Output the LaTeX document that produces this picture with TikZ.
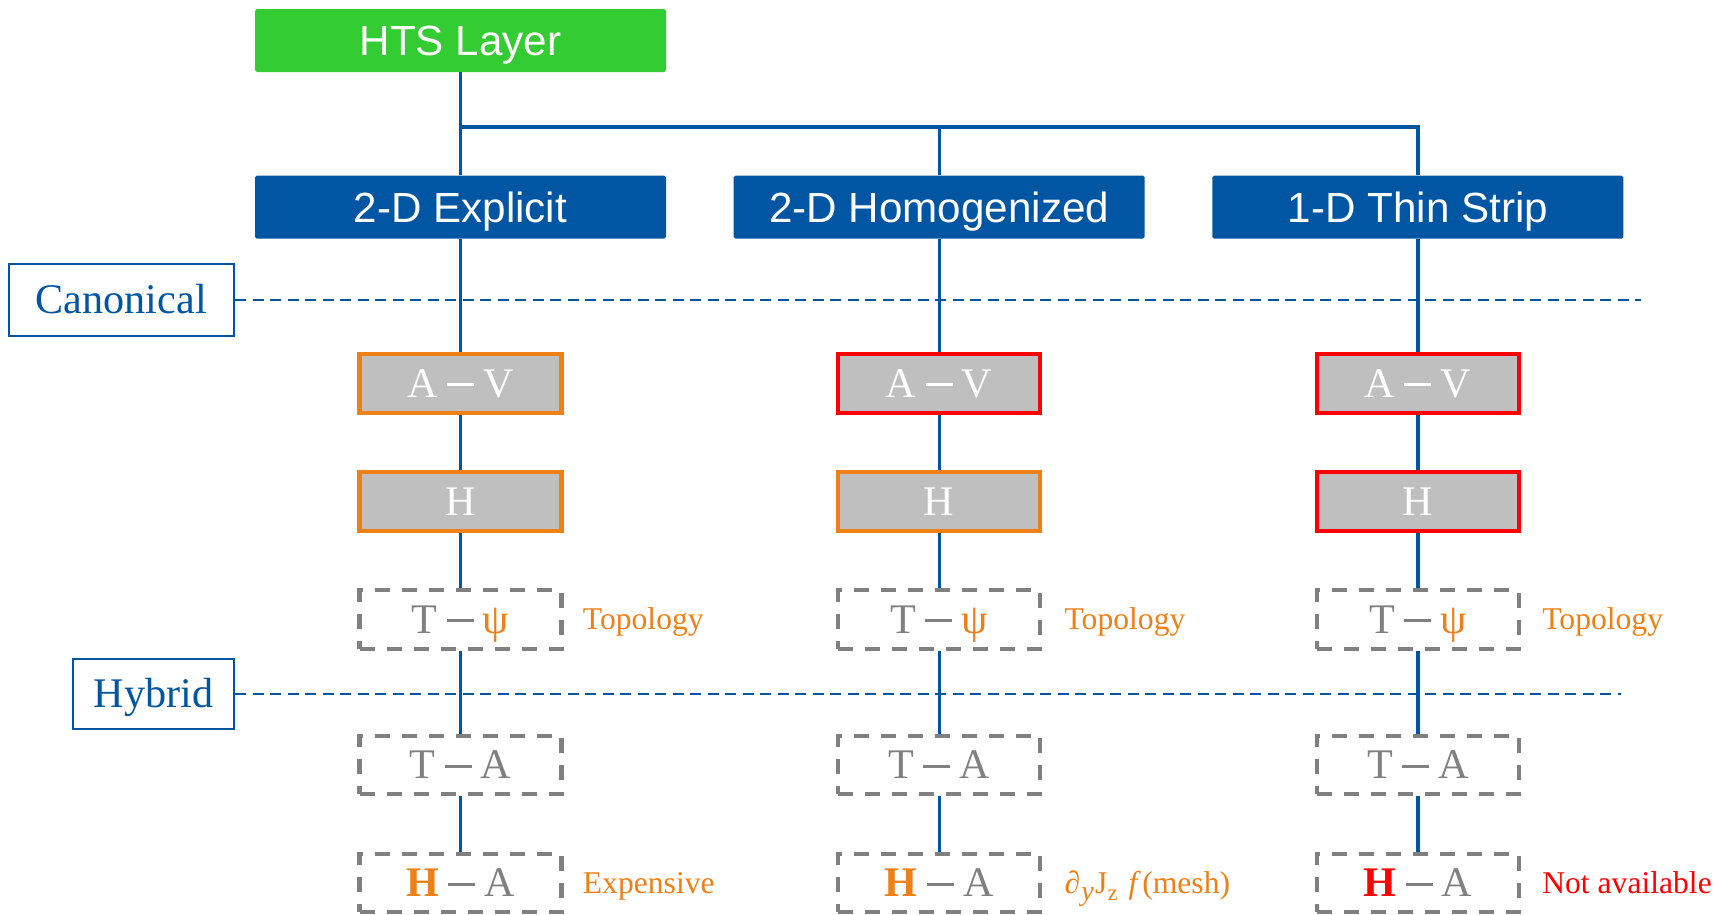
\documentclass[tikz,border=0pt]{standalone}
\usepackage{fontspec}
\setmainfont{Liberation Serif}
\setsansfont{Liberation Sans}
\usetikzlibrary{positioning}
\definecolor{hblue}{RGB}{0,86,163}
\definecolor{hgreen}{RGB}{51,204,51}
\definecolor{hgray}{RGB}{191,191,191}
\definecolor{dgray}{RGB}{128,128,128}
\definecolor{horange}{RGB}{238,128,22}
\definecolor{hred}{RGB}{255,0,0}
\newcommand{\mns}{\hspace{0.22em}\rule[0.27em]{0.64em}{0.06em}\hspace{0.22em}}

\begin{document}
\begin{tikzpicture}[
    node distance=1.14cm and 1.34cm,
    big/.style={rectangle, minimum width=8.22cm, minimum height=1.26cm, inner sep=0pt, text=white, rounded corners=1pt, font=\sffamily\fontsize{24}{28}\selectfont, text height=17.2pt, text depth=0pt},
    rootbox/.style={big, fill=hgreen},
    model/.style={big, fill=hblue},
    formbox/.style={rectangle, minimum width=4.04cm, minimum height=1.17cm, inner sep=0pt, line width=2.3pt, font=\fontsize{24}{28}\selectfont, text height=15.9pt, text depth=0pt},
    okbox/.style={formbox, fill=hgray, draw=horange, text=white},
    badbox/.style={formbox, fill=hgray, draw=hred, text=white},
    hybox/.style={formbox, draw=dgray, dash pattern=on 0.3cm off 0.24cm, text=dgray},
    regime/.style={rectangle, draw=hblue, line width=1.3pt, fill=white, text=hblue, inner sep=0pt, font=\fontsize{24}{28}\selectfont, text height=15.9pt, text depth=0pt},
    remark/.style={inner sep=0pt, text=horange, font=\fontsize{18}{20}\selectfont, text height=11.9pt, text depth=0pt},
    link/.style={draw=hblue, line width=1.9pt},
    divider/.style={draw=hblue, line width=1.1pt, dash pattern=on 0.22cm off 0.13cm}
]
    \useasboundingbox (0,0) rectangle (34.54,-18.30);

    % tree head
    \node (hts) [rootbox] at (9.21,-0.81) {HTS Layer};
    \node (ex) [model, below=2.06cm of hts] {2-D Explicit};
    \node (hom) [model, right=of ex] {2-D Homogenized};
    \node (thin) [model, right=of hom] {1-D Thin Strip};
    \coordinate (fork) at (9.21,-2.54);

    % regimes
    \node (canon) [regime, minimum width=4.5cm, minimum height=1.44cm, anchor=east] at (4.7,-6.0) {Canonical};
    \node (hyb) [regime, minimum width=3.22cm, minimum height=1.40cm, anchor=east] at (4.7,-13.88) {Hybrid};
    \coordinate (canonEnd) at (32.82,-6.0);
    \coordinate (hybEnd) at (32.42,-13.88);

    % 2-D explicit
    \node (avE) [okbox, below=2.26cm of ex] {A\mns V};
    \node (hE) [okbox, below=1.11cm of avE] {H};
    \node (tpE) [hybox, below=1.11cm of hE] {T\mns\textcolor{horange}{ψ}};
    \node (taE) [hybox, below=1.66cm of tpE] {T\mns A};
    \node (haE) [hybox, below=1.11cm of taE] {\textcolor{horange}{\textbf{H}}\mns A};
    \node (topoE) [remark, right=0.38cm of tpE] {Topology};
    \node (costE) [remark, right=0.38cm of haE] {Expensive};

    % 2-D homogenized
    \node (avH) [badbox, below=2.26cm of hom] {A\mns V};
    \node (hH) [okbox, below=1.11cm of avH] {H};
    \node (tpH) [hybox, below=1.11cm of hH] {T\mns\textcolor{horange}{ψ}};
    \node (taH) [hybox, below=1.66cm of tpH] {T\mns A};
    \node (haH) [hybox, below=1.11cm of taH] {\textcolor{horange}{\textbf{H}}\mns A};
    \node (topoH) [remark, right=0.44cm of tpH] {Topology};
    \node (meshH) [remark, right=0.44cm of haH] {{\itshape ∂}\hspace{0.04em}\raisebox{-0.22em}{\fontsize{16}{17}\selectfont\itshape y}\hspace{0.04em}J\raisebox{-0.22em}{\fontsize{13}{15}\selectfont z}\hspace{0.35em}{\itshape f}\hspace{0.15em}(mesh)};

    % 1-D thin strip
    \node (avT) [badbox, below=2.26cm of thin] {A\mns V};
    \node (hT) [badbox, below=1.11cm of avT] {H};
    \node (tpT) [hybox, below=1.11cm of hT] {T\mns\textcolor{horange}{ψ}};
    \node (taT) [hybox, below=1.66cm of tpT] {T\mns A};
    \node (haT) [hybox, below=1.11cm of taT] {\textcolor{hred}{\textbf{H}}\mns A};
    \node (topoT) [remark, right=0.42cm of tpT] {Topology};
    \node (naT) [remark, text=hred, right=0.42cm of haT] {Not available};

    \draw [link] (hts) -- (ex);
    \draw [link] (fork) -| (hom);
    \draw [link] (fork) -| (thin);
    \draw [link] (ex) -- (avE) -- (hE) -- (tpE) -- (taE) -- (haE);
    \draw [link] (hom) -- (avH) -- (hH) -- (tpH) -- (taH) -- (haH);
    \draw [link] (thin) -- (avT) -- (hT) -- (tpT) -- (taT) -- (haT);

    \draw [divider] (canon) -- (canonEnd);
    \draw [divider] (hyb) -- (hybEnd);
\end{tikzpicture}
\end{document}
